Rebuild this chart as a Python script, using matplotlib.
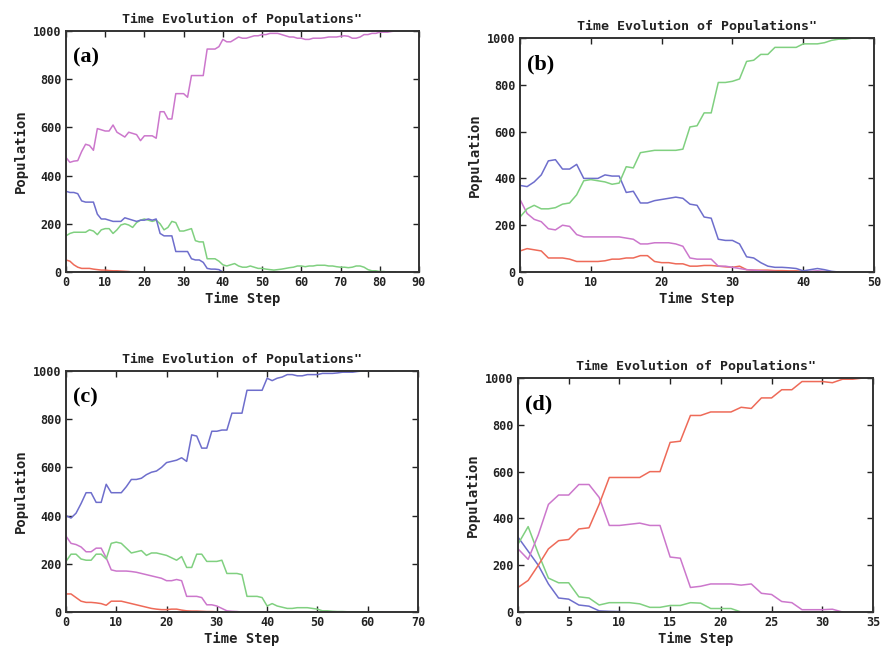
import matplotlib
matplotlib.use("Agg")
import matplotlib.pyplot as plt
import numpy as np

# ---------------- data ----------------
# Panel (a)
a_magenta = [475, 455, 460, 462, 500, 530, 525, 505, 595, 590, 585, 585, 610, 580, 570, 560, 580, 575, 570, 545,
             565, 565, 565, 555, 665, 665, 635, 635, 740, 740, 740, 725, 815, 815, 815, 815, 925, 925, 925, 935,
             965, 955, 955, 965, 975, 970, 970, 975, 980, 980, 985, 985, 990, 990, 990, 985, 980, 975, 975, 970,
             970, 965, 965, 970, 970, 970, 972, 975, 975, 975, 978, 980, 978, 970, 970, 975, 985, 985, 990, 990,
             995, 995, 995, 998, 1000, 1000]
a_blue = [335, 330, 330, 325, 295, 290, 290, 290, 240, 220, 220, 215, 210, 210, 210, 225, 220, 215, 210, 215,
          215, 220, 215, 220, 160, 150, 150, 150, 85, 85, 85, 85, 55, 50, 50, 40, 15, 12, 12, 10, 0]
a_green = [150, 160, 165, 165, 165, 165, 175, 170, 155, 175, 180, 180, 160, 175, 195, 200, 195, 185, 205, 215,
           220, 215, 210, 215, 200, 175, 185, 210, 205, 170, 170, 175, 180, 130, 125, 125, 55, 55, 55, 45,
           30, 25, 30, 35, 25, 20, 20, 25, 20, 15, 15, 12, 10, 8, 10, 12, 15, 18, 20, 25,
           25, 22, 25, 25, 28, 28, 28, 25, 25, 22, 20, 20, 18, 20, 25, 25, 20, 10, 5, 5,
           2, 2, 0, 0, 0]
a_red = [50, 45, 30, 20, 15, 15, 15, 12, 10, 8, 8, 6, 5, 5, 4, 3, 2, 0]

# Panel (b)
b_green = [235, 270, 285, 270, 270, 275, 290, 295, 330, 390, 395, 390, 385, 375, 380, 450, 445, 510, 515, 520,
           520, 520, 520, 525, 620, 625, 680, 680, 810, 810, 815, 825, 900, 905, 930, 930, 960, 960, 960, 960,
           975, 975, 975, 980, 990, 995, 995, 1000, 1000, 1000]
b_blue = [370, 365, 385, 415, 475, 480, 440, 440, 460, 400, 400, 400, 415, 410, 410, 340, 345, 295, 295, 305,
          310, 315, 320, 315, 290, 285, 235, 230, 140, 135, 135, 120, 65, 60, 40, 25, 20, 20, 18, 15,
          5, 10, 15, 10, 3, 0]
b_magenta = [310, 250, 225, 215, 185, 180, 200, 195, 160, 150, 150, 150, 150, 150, 150, 145, 140, 120, 120, 125,
             125, 125, 120, 110, 60, 55, 55, 55, 25, 25, 20, 15, 10, 8, 5, 3, 2, 0, 0, 0,
             0, 3, 5, 3, 0]
b_red = [90, 100, 95, 90, 60, 60, 60, 55, 45, 45, 45, 45, 48, 55, 55, 60, 60, 70, 70, 45,
         40, 40, 35, 35, 25, 25, 28, 28, 25, 22, 20, 25, 10, 8, 8, 8, 6, 6, 5, 5, 3, 0]

# Panel (c)
c_blue = [400, 390, 410, 450, 495, 495, 455, 455, 530, 495, 495, 495, 520, 550, 550, 555, 570, 580, 585, 600,
          620, 625, 630, 640, 625, 735, 730, 680, 680, 750, 750, 755, 755, 825, 825, 825, 920, 920, 920, 920,
          970, 960, 970, 975, 985, 985, 980, 980, 985, 985, 985, 990, 990, 990, 992, 995, 995, 995, 998, 1000,
          1000, 1000, 1000, 1000, 1000, 1000]
c_green = [210, 240, 240, 220, 215, 215, 240, 240, 220, 285, 290, 285, 265, 245, 250, 255, 235, 245, 245, 240,
           235, 225, 215, 230, 185, 185, 240, 240, 210, 210, 210, 215, 160, 160, 160, 155, 65, 65, 65, 60,
           25, 35, 25, 20, 15, 15, 18, 18, 18, 15, 12, 5, 5, 3, 2, 2, 1, 1, 1, 0,
           0, 0, 0, 0]
c_magenta = [315, 285, 280, 270, 250, 250, 265, 265, 225, 175, 170, 170, 170, 168, 165, 160, 155, 150, 145, 140,
             130, 130, 135, 130, 65, 65, 65, 60, 30, 30, 25, 15, 5, 3, 2, 0, 0, 0, 0, 0, 0]
c_red = [75, 75, 60, 45, 40, 40, 38, 35, 28, 45, 45, 45, 40, 35, 30, 25, 20, 15, 12, 10,
         10, 12, 12, 8, 5, 4, 4, 3, 2, 2, 1, 0]

# Panel (d)
d_red = [105, 135, 200, 270, 305, 310, 355, 360, 460, 575, 575, 575, 575, 600, 600, 725, 730, 840, 840, 855,
         855, 855, 875, 870, 915, 915, 950, 950, 985, 985, 985, 980, 995, 995, 1000]
d_magenta = [270, 225, 330, 460, 500, 500, 545, 545, 490, 370, 370, 375, 380, 370, 370, 235, 230, 105, 110, 120,
             120, 120, 115, 120, 80, 75, 45, 40, 10, 10, 10, 12, 0]
d_green = [290, 365, 250, 145, 125, 125, 65, 60, 30, 40, 40, 40, 35, 20, 20, 28, 28, 40, 38, 15, 15, 15, 0]
d_blue = [320, 260, 200, 120, 60, 55, 30, 25, 5, 3, 2, 1, 0]

titles = ['Time Evolution of Populations"'] * 4
panel_labels = ["(a)", "(b)", "(c)", "(d)"]
xmax = [90, 50, 70, 35]
xstep = [10, 10, 10, 5]
yticks = [0, 200, 400, 600, 800, 1000]

COL = {"magenta": "#cc77cc", "blue": "#6e6ecc", "green": "#80d080", "red": "#ee6a58"}

panels = [
    [("red", a_red), ("green", a_green), ("blue", a_blue), ("magenta", a_magenta)],
    [("red", b_red), ("magenta", b_magenta), ("blue", b_blue), ("green", b_green)],
    [("red", c_red), ("magenta", c_magenta), ("green", c_green), ("blue", c_blue)],
    [("blue", d_blue), ("green", d_green), ("magenta", d_magenta), ("red", d_red)],
]

# axes rectangles (figure fractions)
rects = [
    [0.0748, 0.5828, 0.4002, 0.3697],
    [0.5896, 0.5828, 0.4014, 0.3589],
    [0.0748, 0.0613, 0.3991, 0.3697],
    [0.5873, 0.0613, 0.4025, 0.3589],
]

fig = plt.figure(figsize=(8.82, 6.52), dpi=100)
mono = "DejaVu Sans Mono"
for i in range(4):
    ax = fig.add_axes(rects[i])
    for cname, vals in panels[i]:
        ax.plot(np.arange(len(vals)), vals, color=COL[cname], lw=1.1)
    ax.set_xlim(0, xmax[i])
    ax.set_ylim(0, 1000)
    ax.set_xticks(np.arange(0, xmax[i] + 1, xstep[i]))
    ax.set_yticks(yticks)
    ax.tick_params(direction="in", top=True, right=True, length=4, width=1.0,
                   labelsize=8.5, pad=3, colors="#222222")
    for lab in ax.get_xticklabels() + ax.get_yticklabels():
        lab.set_family(mono)
        lab.set_fontweight("bold")
    for sp in ax.spines.values():
        sp.set_linewidth(1.4)
        sp.set_color("#333333")
    ax.set_title(titles[i], fontsize=9.5, family=mono, fontweight="bold", pad=6, color="#222222")
    ax.set_xlabel("Time Step", fontsize=10, family=mono, fontweight="bold", labelpad=2, color="#222222")
    ax.set_ylabel("Population", fontsize=10, family=mono, fontweight="bold", labelpad=4, color="#222222")
    ax.text(0.02, 0.93, panel_labels[i], transform=ax.transAxes, fontsize=16,
            family="Liberation Serif", fontweight="bold", va="top", ha="left")

fig.savefig("out.png", dpi=100)
